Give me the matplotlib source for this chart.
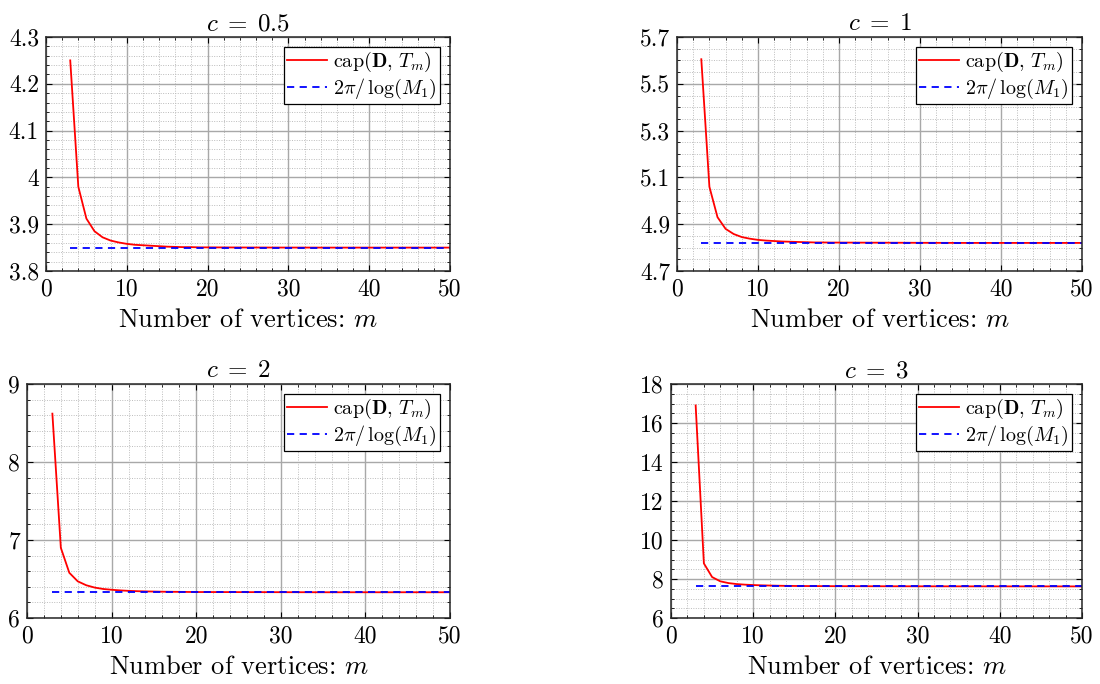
import numpy as np
import matplotlib
matplotlib.use("Agg")
import matplotlib.pyplot as plt
from matplotlib.ticker import MultipleLocator, FixedLocator, FormatStrFormatter

plt.rcParams['font.family'] = 'serif'
plt.rcParams['font.serif'] = ['cmr10']
plt.rcParams['mathtext.fontset'] = 'cm'
plt.rcParams['axes.formatter.use_mathtext'] = True

# number of vertices
m = [3, 4, 5, 6, 7, 8, 9, 10, 11, 12, 13, 14, 15, 16, 17, 18, 19, 20,
     25, 30, 35, 40, 45, 50]

# cap(D, T_m) for each c
cap_05 = [4.25, 3.98, 3.912, 3.885, 3.872, 3.865, 3.861, 3.858, 3.856, 3.855,
          3.854, 3.853, 3.852, 3.8515, 3.851, 3.851, 3.8505, 3.8505,
          3.8502, 3.8501, 3.85, 3.85, 3.85, 3.85]
cap_1 = [5.605, 5.06, 4.93, 4.88, 4.858, 4.845, 4.838, 4.833, 4.83, 4.828,
         4.826, 4.825, 4.824, 4.823, 4.822, 4.822, 4.8215, 4.8215,
         4.821, 4.8205, 4.82, 4.82, 4.82, 4.82]
cap_2 = [8.62, 6.90, 6.58, 6.47, 6.42, 6.39, 6.372, 6.362, 6.354, 6.348,
         6.344, 6.341, 6.339, 6.337, 6.336, 6.335, 6.334, 6.333,
         6.332, 6.331, 6.33, 6.33, 6.33, 6.33]
cap_3 = [16.9, 8.8, 8.1, 7.88, 7.79, 7.74, 7.71, 7.69, 7.675, 7.665,
         7.655, 7.648, 7.643, 7.64, 7.637, 7.635, 7.633, 7.632,
         7.628, 7.625, 7.623, 7.622, 7.621, 7.62]

# 2*pi/log(M1)
lim_05 = 3.85
lim_1 = 4.82
lim_2 = 6.33
lim_3 = 7.62

titles = [r'$c\;=\;0.5$', r'$c\;=\;1$', r'$c\;=\;2$', r'$c\;=\;3$']
caps = [cap_05, cap_1, cap_2, cap_3]
lims = [lim_05, lim_1, lim_2, lim_3]
ylims = [(3.8, 4.3), (4.7, 5.7), (6, 9), (6, 18)]
yticks = [[3.8, 3.9, 4.0, 4.1, 4.2, 4.3],
          [4.7, 4.9, 5.1, 5.3, 5.5, 5.7],
          [6, 7, 8, 9],
          [6, 8, 10, 12, 14, 16, 18]]
yminor = [0.02, 0.05, 0.2, 0.5]
# axes boxes in pixels: left, top, right, bottom
boxes = [(46, 37, 450, 271), (677, 37, 1082, 271),
         (27, 384, 450, 618), (671, 384, 1082, 618)]

W, H = 1100, 684
fig = plt.figure(figsize=(W / 100, H / 100), dpi=100)

for i in range(4):
    l, t, r, b = boxes[i]
    ax = fig.add_axes([l / W, 1 - b / H, (r - l) / W, (b - t) / H])
    ax.plot(m, caps[i], color='red', lw=1.3, label=r'$\mathrm{cap}(\mathbf{D},\,T_m)$')
    ax.plot([m[0], m[-1]], [lims[i], lims[i]], color='blue', ls='--', lw=1.3,
            dashes=(4, 3), label=r'$2\pi/\,\log(M_1)$')
    ax.set_xlim(0, 50)
    ax.set_ylim(*ylims[i])
    ax.xaxis.set_major_locator(MultipleLocator(10))
    ax.xaxis.set_minor_locator(MultipleLocator(2))
    ax.yaxis.set_major_locator(FixedLocator(yticks[i]))
    ax.yaxis.set_minor_locator(MultipleLocator(yminor[i]))
    ax.yaxis.set_major_formatter(FormatStrFormatter('%g'))
    ax.xaxis.set_major_formatter(FormatStrFormatter('%g'))
    ax.grid(which='major', color='#a8a8a8', lw=1.0, ls='-')
    ax.grid(which='minor', color='#bcbcbc', lw=0.7, ls=(0, (1, 1.5)))
    ax.set_axisbelow(True)
    ax.tick_params(which='both', direction='in', top=True, right=True, labelsize=17,
                   pad=5)
    ax.tick_params(which='major', length=4)
    ax.tick_params(which='minor', length=2.5)
    for s in ax.spines.values():
        s.set_linewidth(1.1)
        s.set_color('#262626')
    ax.set_title(titles[i], fontsize=18, pad=5)
    ax.set_xlabel('Number of vertices: $m$', fontsize=19, labelpad=6)
    leg = ax.legend(loc='upper right', fontsize=14.5, fancybox=False, framealpha=1,
                    edgecolor='black', handlelength=2.0, handletextpad=0.3,
                    borderpad=0.15, labelspacing=0.15, borderaxespad=0.5)
    leg.get_frame().set_linewidth(0.9)

fig.savefig('out.png', dpi=100)
